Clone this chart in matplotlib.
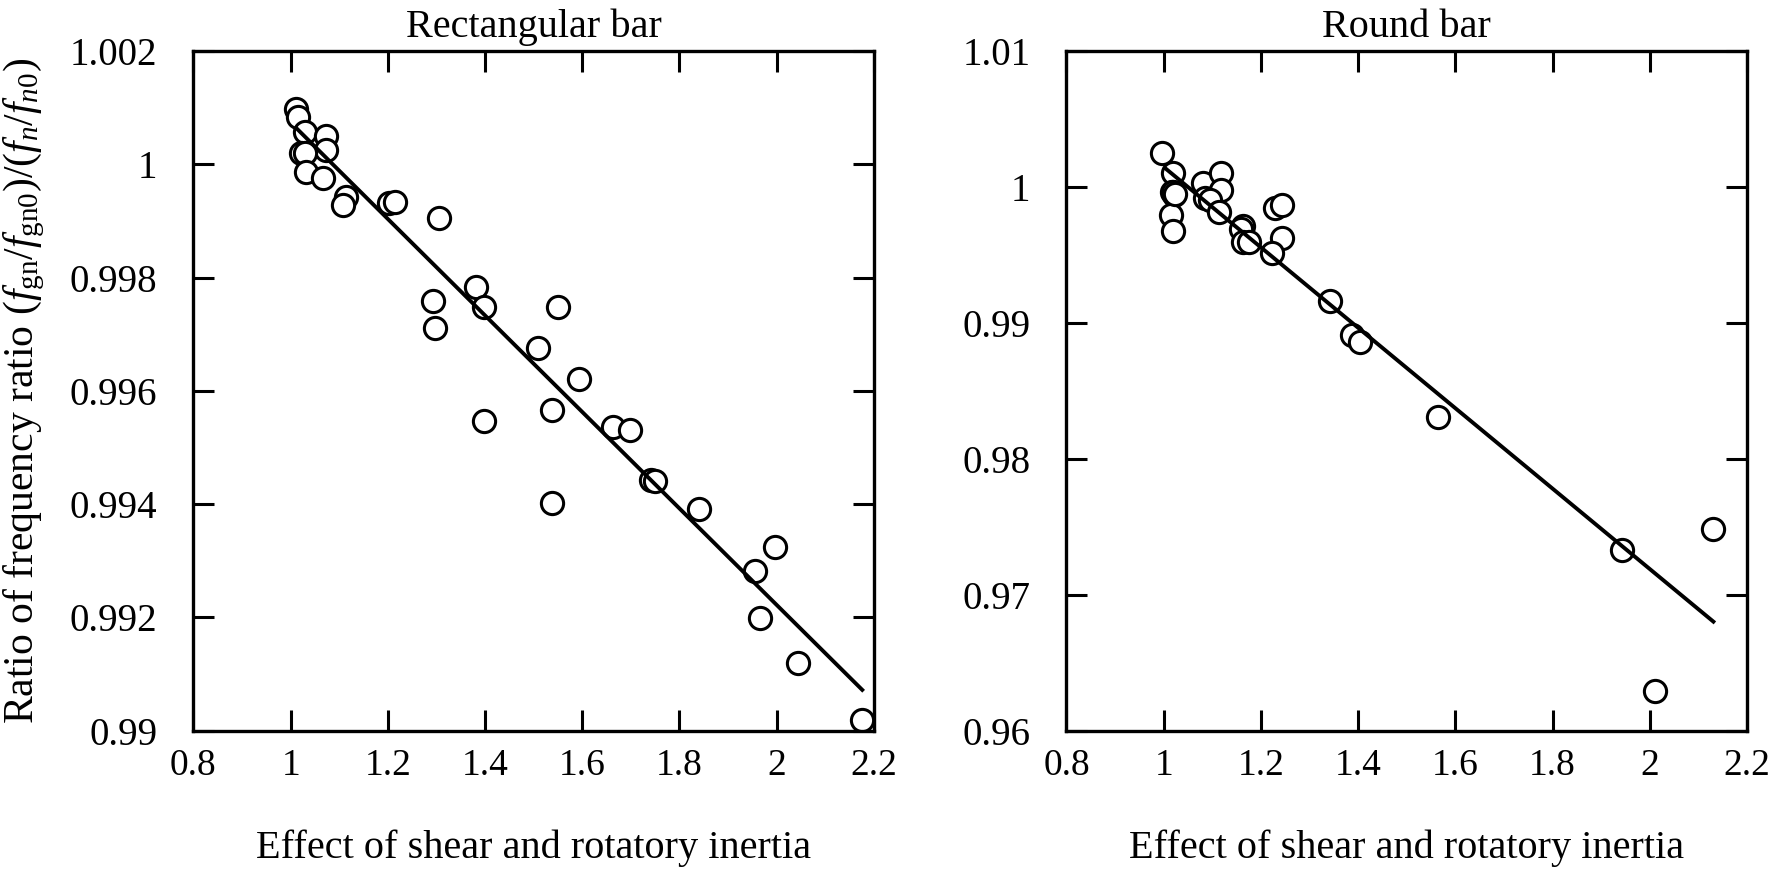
import matplotlib
matplotlib.use("Agg")
import matplotlib.pyplot as plt
import numpy as np

# ---- data ----
rect_x = [1.012, 1.015, 1.030, 1.073, 1.073, 1.022, 1.029, 1.032, 1.066, 1.114,
          1.108, 1.203, 1.214, 1.306, 1.292, 1.298, 1.382, 1.398, 1.398, 1.551,
          1.508, 1.593, 1.538, 1.538, 1.663, 1.699, 1.742, 1.750, 1.840, 1.996,
          1.955, 1.966, 2.043, 2.175]
rect_y = [1.000976, 1.000829, 1.000575, 1.000500, 1.000252, 1.000193, 1.000193,
          0.999868, 0.999750, 0.999427, 0.999280, 0.999310, 0.999340, 0.999045,
          0.997585, 0.997103, 0.997838, 0.997474, 0.995471, 0.997474, 0.996750,
          0.996200, 0.995660, 0.994023, 0.995365, 0.995300, 0.994430, 0.994400,
          0.993917, 0.993238, 0.992825, 0.991984, 0.991190, 0.990190]
rect_fit_x = [1.012, 2.176]
rect_fit_y = [1.000635, 0.990720]

round_x = [0.996, 1.019, 1.017, 1.021, 1.015, 1.019, 1.080, 1.117, 1.117, 1.085,
           1.095, 1.114, 1.164, 1.160, 1.164, 1.176, 1.229, 1.243, 1.243, 1.222,
           1.342, 1.387, 1.404, 1.565, 1.943, 2.011, 2.131, 1.020, 1.024]
round_y = [1.00249, 1.00102, 0.99966, 0.99942, 0.99795, 0.99672, 1.00028, 1.00102,
           0.99979, 0.99918, 0.99905, 0.99812, 0.99709, 0.99690, 0.99598, 0.99591,
           0.99844, 0.99868, 0.99623, 0.99513, 0.99164, 0.98912, 0.98862, 0.98308,
           0.97330, 0.96294, 0.97482, 0.99960, 0.99950]
round_fit_x = [1.003, 2.131]
round_fit_y = [1.00138, 0.96802]

x_ticks = [0.8, 1.0, 1.2, 1.4, 1.6, 1.8, 2.0, 2.2]
rect_yticks = [0.99, 0.992, 0.994, 0.996, 0.998, 1.0, 1.002]
round_yticks = [0.96, 0.97, 0.98, 0.99, 1.0, 1.01]

plt.rcParams["font.family"] = ["Liberation Serif", "DejaVu Serif"]
plt.rcParams["mathtext.fontset"] = "custom"
plt.rcParams["mathtext.rm"] = "Liberation Serif"
plt.rcParams["mathtext.it"] = "Liberation Serif:italic"


def fmt(v):
    return "%g" % v


def style_axes(ax, yticks, ylim, title):
    ax.set_xlim(0.8, 2.2)
    ax.set_ylim(*ylim)
    ax.set_xticks(x_ticks)
    ax.set_xticklabels([fmt(v) for v in x_ticks])
    ax.set_yticks(yticks)
    ax.set_yticklabels([fmt(v) for v in yticks])
    ax.tick_params(direction="in", top=True, right=True, length=15, width=2.2)
    ax.tick_params(axis="y", labelsize=28, pad=26)
    ax.tick_params(axis="x", labelsize=27, pad=13)
    for s in ax.spines.values():
        s.set_linewidth(2.4)
    ax.set_title(title, fontsize=29, pad=10)
    ax.set_xlabel("Effect of shear and rotatory inertia", fontsize=29, labelpad=33)


fig = plt.figure(figsize=(17.73, 8.74), dpi=100)
ax1 = fig.add_axes([0.1091, 0.164, 0.3838, 0.7777])
ax2 = fig.add_axes([0.6015, 0.164, 0.3838, 0.7777])

ax1.plot(rect_x, rect_y, "o", mfc="white", mec="black", ms=16, mew=2.2, ls="none")
ax1.plot(rect_fit_x, rect_fit_y, color="black", lw=2.8)
style_axes(ax1, rect_yticks, (0.99, 1.002), "Rectangular bar")
ax1.set_ylabel(r"Ratio of frequency ratio ($f_{\mathrm{gn}}/f_{\mathrm{gn0}}$)/($f_{n}/f_{n\mathrm{0}}$)",
               fontsize=30, labelpad=16)

ax2.plot(round_x, round_y, "o", mfc="white", mec="black", ms=16, mew=2.2, ls="none")
ax2.plot(round_fit_x, round_fit_y, color="black", lw=2.8)
style_axes(ax2, round_yticks, (0.96, 1.01), "Round bar")

fig.savefig("out.png", dpi=100)
